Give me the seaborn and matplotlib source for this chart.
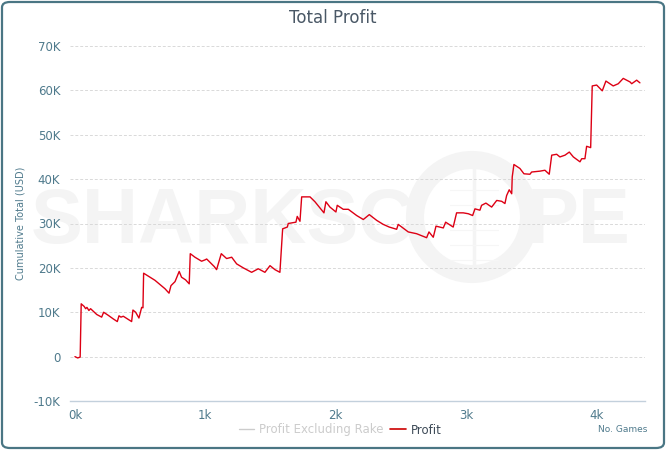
import numpy as np
import pandas as pd
import matplotlib
matplotlib.use('Agg')
import matplotlib.pyplot as plt
from matplotlib.lines import Line2D
from matplotlib.patches import Ellipse, FancyBboxPatch
import seaborn as sns

# cumulative profit (games played, USD)
games = [0, 21, 40, 48, 71, 82, 92, 107, 120, 167, 205, 220, 256, 294, 325, 338, 353, 371,
         435, 445, 466, 491, 512, 522, 527, 576, 614, 691, 722, 737, 768, 800, 818, 849, 877,
         885, 921, 972, 998, 1011, 1069, 1087, 1123, 1164, 1203, 1241, 1292, 1356, 1407, 1458,
         1497, 1535, 1573, 1594, 1630, 1637, 1696, 1706, 1727, 1740, 1804, 1842, 1911, 1926,
         1957, 2003, 2013, 2059, 2098, 2162, 2213, 2259, 2316, 2366, 2412, 2469, 2481, 2558,
         2622, 2673, 2699, 2717, 2750, 2771, 2827, 2845, 2903, 2929, 2980, 3019, 3052, 3070,
         3108, 3121, 3154, 3198, 3237, 3275, 3300, 3313, 3333, 3352, 3356, 3369, 3415, 3446,
         3492, 3505, 3569, 3607, 3640, 3659, 3697, 3722, 3761, 3794, 3825, 3876, 3889, 3914,
         3927, 3958, 3970, 4004, 4047, 4075, 4131, 4170, 4208, 4260, 4273, 4311, 4336]
profit = [0, -300, -100, 11900, 11300, 10800, 11100, 10400, 10800, 9500, 8900, 10000, 9300,
          8500, 7900, 9200, 8900, 9100, 7900, 10500, 10000, 8700, 11100, 11000, 18800, 17900,
          17200, 15300, 14300, 16000, 16900, 19200, 17900, 17300, 16400, 23200, 22400, 21500,
          21800, 22000, 20300, 19600, 23200, 22100, 22400, 20900, 20000, 19000, 19800, 19000,
          20500, 19600, 19000, 28800, 29200, 30000, 30300, 31600, 30500, 36000, 36000, 34900,
          32400, 34900, 33700, 32600, 34100, 33200, 33200, 31800, 30900, 32000, 30700, 29800,
          29200, 28700, 29800, 28100, 27700, 27100, 26800, 28100, 26900, 29400, 29000, 30300,
          29200, 32400, 32400, 32200, 31800, 33300, 33000, 34100, 34600, 33700, 35200, 35000,
          34500, 36300, 37600, 36700, 40500, 43300, 42400, 41200, 41100, 41600, 41800, 42000,
          41100, 45400, 45600, 45000, 45400, 46100, 45000, 43900, 44600, 44600, 47400, 47100,
          61000, 61200, 59900, 62100, 61000, 61500, 62700, 61900, 61500, 62300, 61700]

x_ticks = [0, 1000, 2000, 3000, 4000]
x_tick_labels = ['0k', '1k', '2k', '3k', '4k']
y_ticks = [-10000, 0, 10000, 20000, 30000, 40000, 50000, 60000, 70000]
y_tick_labels = ['-10K', '0', '10K', '20K', '30K', '40K', '50K', '60K', '70K']

W, H = 666, 450
teal = '#4f7a8c'

df = pd.DataFrame({'games': games, 'profit': profit})

sns.set_style('white')
plt.rcParams['font.family'] = ['DejaVu Sans']

fig = plt.figure(figsize=(W / 100, H / 100), dpi=100)
ax = fig.add_axes([70 / W, 1 - 401 / H, 575 / W, 355 / H])
ax.set_facecolor('none')

# outer rounded border
fig.add_artist(FancyBboxPatch((2 / W, 2 / H), (W - 4) / W, (H - 4) / H,
                              boxstyle='round,pad=0,rounding_size=0.012',
                              transform=fig.transFigure, fill=False,
                              edgecolor='#4a7684', linewidth=1.6, zorder=-2))

# faint watermark behind the plot
wm = '#f4f4f4'
fig.text(31 / W, 1 - 243 / H, 'SHARKSC', fontsize=56, fontweight='bold',
         family='Liberation Sans', color=wm, zorder=-1, va='baseline')
fig.text(527 / W, 1 - 243 / H, 'PE', fontsize=56, fontweight='bold',
         family='Liberation Sans', color=wm, zorder=-1, va='baseline')
fig.add_artist(Ellipse((472 / W, 1 - 217 / H), 114 / W, 114 / H, fill=False,
                       edgecolor=wm, linewidth=13, transform=fig.transFigure, zorder=-1))
fig.add_artist(Line2D([474 / W, 474 / W], [1 - 160 / H, 1 - 275 / H], color=wm,
                      linewidth=2.5, transform=fig.transFigure, zorder=-1))
for yy in [190, 205, 230, 245, 260]:
    fig.add_artist(Line2D([450 / W, 498 / W], [1 - yy / H, 1 - yy / H], color='#f6f6f6',
                          linewidth=0.8, transform=fig.transFigure, zorder=-1))

sns.lineplot(data=df, x='games', y='profit', ax=ax, color='#dd0014', linewidth=1.0,
             estimator=None, sort=False, zorder=3)

ax.set_xlim(-38, 4375)
ax.set_ylim(-10000, 70000)

for yv in y_ticks[1:]:
    ax.axhline(yv, color='#d9d9d9', linewidth=0.7, linestyle=(0, (3, 2)), zorder=1)

for s in ['top', 'right', 'left']:
    ax.spines[s].set_visible(False)
ax.spines['bottom'].set_color('#c3d0dc')
ax.spines['bottom'].set_linewidth(1)

ax.set_xticks(x_ticks)
ax.set_xticklabels(x_tick_labels)
ax.set_yticks(y_ticks)
ax.set_yticklabels(y_tick_labels)
ax.tick_params(axis='x', length=5, width=0.8, color='#c3d0dc', labelcolor=teal,
               labelsize=8.5, pad=1, direction='out')
ax.tick_params(axis='y', length=0, labelcolor=teal, labelsize=8.5, pad=7)
ax.set_xlabel('')
ax.set_ylabel('Cumulative Total (USD)', fontsize=7, color=teal)
ax.yaxis.set_label_coords(-44 / 575, 0.5)

fig.text(333 / W, 1 - 18 / H, 'Total Profit', ha='center', va='center',
         fontsize=12, color='#4a5866')
fig.text(647 / W, 1 - 430 / H, 'No. Games', ha='right', va='center',
         fontsize=6.5, color=teal)

handles = [Line2D([0], [0], color='#cccccc', linewidth=1),
           Line2D([0], [0], color='#cc0000', linewidth=1.2)]
leg = fig.legend(handles, ['Profit Excluding Rake', 'Profit'], loc='center',
                 bbox_to_anchor=(340 / W, 1 - 430 / H), ncol=2, frameon=False,
                 fontsize=8.5, handlelength=1.3, handletextpad=0.4, columnspacing=0.6)
leg.get_texts()[0].set_color('#cccccc')
leg.get_texts()[1].set_color('#3d4a57')

fig.savefig('out.png', dpi=100)
